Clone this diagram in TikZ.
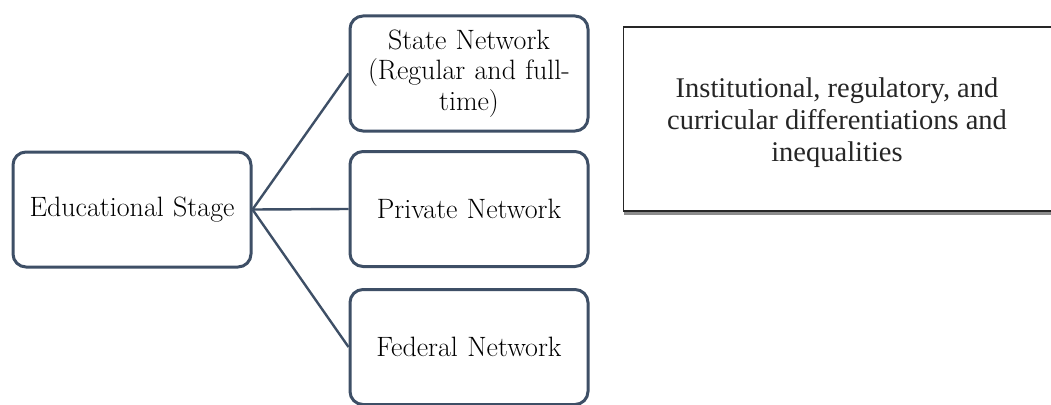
\documentclass[tikz,border=0pt]{standalone}
\usepackage{fontspec}
\setmainfont{Liberation Serif}
\newfontfamily\boxfont{Latin Modern Roman}
\begin{document}
\begin{tikzpicture}[x=1pt,y=-1pt,
  netbox/.style={draw=boxline, line width=3pt, rounded corners=13pt, fill=white,
    minimum width=238pt, minimum height=115pt, inner sep=4pt, align=center,
    font=\boxfont\fontsize{28}{30.5}\selectfont, text width=226pt},
  link/.style={draw=boxline, line width=2.4pt},
  notebox/.style={draw=black!85, line width=1.2pt, fill=white}]
\definecolor{boxline}{HTML}{3E4F66}
\useasboundingbox (0,0) rectangle (1051,404);
\clip (0,0) rectangle (1051,404);

% stage and the three school networks
\node[netbox] (edu) at (132,209.5) {Educational Stage};
\node[netbox] (state) at (469,73.5) {State Network\\(Regular and full-\\time)};
\node[netbox] (private) at (469,209) {Private Network};
\node[netbox] (federal) at (469,347) {Federal Network};

\draw[link] (edu.east) -- (state.west);
\draw[link] (edu.east) -- (private.west);
\draw[link] (edu.east) -- (federal.west);

% outlined note box with a slight shadow along its base
\fill[black!45] (624,211) rectangle (1060,214.5);
\draw[notebox] (623.5,27) rectangle (1060,211);
\node[align=center, font=\fontsize{28.5}{32}\selectfont, text=black!85] (note) at (837,123)
  {Institutional, regulatory, and\\curricular differentiations and\\inequalities};
\end{tikzpicture}
\end{document}
